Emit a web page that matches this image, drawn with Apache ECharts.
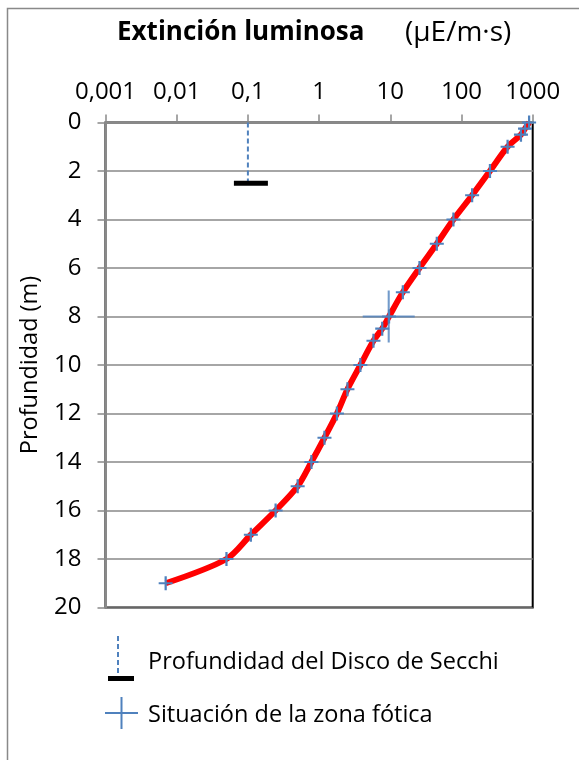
<!DOCTYPE html>
<html><head><meta charset="utf-8">
<script src="https://cdn.jsdelivr.net/npm/echarts@6/dist/echarts.min.js"></script>
<style>html,body{margin:0;padding:0;background:#fff}#c{width:579px;height:760px}</style>
</head><body><div id="c"></div>
<script>
// Depth (m) and light intensity (µE/m·s)
const depths = [0, 0.25, 0.5, 1, 2, 3, 4, 5, 6, 7, 8, 8.5, 9, 10, 11, 12, 13, 14, 15, 16, 17, 18, 19];
const light  = [890, 780, 684, 444, 251, 141, 77, 45, 25.7, 15, 9.6, 7.7, 5.8, 3.8, 2.5, 1.78, 1.19, 0.78, 0.50, 0.245, 0.11, 0.050, 0.0070];
const xTickLabels = ['0,001', '0,01', '0,1', '1', '10', '100', '1000'];
const secchiX = [0.1, 0.1];
const secchiDepth = [0, 2.5];
const photicX = [9.5];
const photicDepth = [8];

const FONT = '"Open Sans"';
const BLUE = '#4f81bd';
const GRAY = '#898989';
const plusSmall = 'path://M42,0H58V42H100V58H58V100H42V58H0V42H42Z';
const plusBig = 'path://M48,0H52V48H100V52H52V100H48V52H0V48H48Z';

const chart = echarts.init(document.getElementById('c'), null, {renderer: 'canvas'});
const mainData = depths.map((d, i) => [light[i], d]);
const secchiData = secchiX.map((x, i) => i === 0
  ? {value: [x, secchiDepth[i]], symbol: 'none'}
  : {value: [x, secchiDepth[i]], symbol: 'rect', symbolSize: [34, 5], symbolOffset: [3, 0], itemStyle: {color: '#000'}});
const photicData = photicX.map((x, i) => [x, photicDepth[i]]);

chart.setOption({
  animation: false,
  backgroundColor: '#fff',
  textStyle: {fontFamily: FONT},
  grid: {left: 105.5, right: 46.3, top: 122.5, bottom: 152.5, show: true, borderColor: '#000', borderWidth: 2, z: 0},
  xAxis: {
    type: 'log', logBase: 10, min: 0.001, max: 1000, position: 'top', z: 1,
    axisLine: {show: true, lineStyle: {color: GRAY, width: 2.5}},
    axisTick: {show: true, length: 8, lineStyle: {color: GRAY, width: 1.5}},
    minorTick: {show: false},
    splitLine: {show: false},
    axisLabel: {
      margin: 18, color: '#000', fontSize: 24, fontFamily: FONT,
      formatter: v => xTickLabels[Math.round(Math.log10(v)) + 3]
    }
  },
  yAxis: {
    type: 'value', inverse: true, min: 0, max: 20, interval: 2, z: 1,
    name: 'Profundidad (m)', nameLocation: 'middle', nameGap: 63, nameRotate: 90,
    nameTextStyle: {color: '#000', fontSize: 23.5, fontFamily: FONT},
    axisLine: {show: true, lineStyle: {color: GRAY, width: 2}},
    axisTick: {show: true, length: 8, lineStyle: {color: GRAY, width: 1.5}},
    splitLine: {show: true, lineStyle: {color: GRAY, width: 1.5}},
    axisLabel: {margin: 24, color: '#000', fontSize: 24, fontFamily: FONT}
  },
  series: [
    {
      type: 'line', data: mainData, smooth: 0.3, z: 3,
      lineStyle: {color: '#ff0000', width: 6},
      symbol: plusSmall, symbolSize: 14, showAllSymbol: true,
      itemStyle: {color: BLUE}
    },
    {
      type: 'line', data: secchiData, z: 3,
      lineStyle: {color: BLUE, width: 2, type: [5, 3]},
      itemStyle: {color: BLUE}
    },
    {
      type: 'scatter', data: photicData, z: 4,
      symbol: plusBig, symbolSize: 52, itemStyle: {color: BLUE}
    }
  ],
  graphic: [
    {type: 'rect', silent: true, shape: {x: 7.5, y: 8.5, width: 620, height: 800}, style: {fill: 'none', stroke: GRAY, lineWidth: 1.5}, z: -1},
    {type: 'text', left: 117, top: 20, style: {text: 'Extinción luminosa', font: 'bold 26px ' + FONT, fill: '#000'}},
    {type: 'text', left: 405, top: 19, style: {text: '(μE/m·s)', font: '28px ' + FONT, fill: '#000'}},
    // Legend: Secchi disk
    {type: 'line', shape: {x1: 118, y1: 636, x2: 118, y2: 676}, style: {stroke: BLUE, lineWidth: 2, lineDash: [5, 3]}},
    {type: 'rect', shape: {x: 108, y: 676, width: 26, height: 5}, style: {fill: '#000'}},
    {type: 'text', left: 148, top: 650, style: {text: 'Profundidad del Disco de Secchi', font: '23.5px ' + FONT, fill: '#000'}},
    // Legend: photic zone
    {type: 'line', shape: {x1: 105, y1: 713, x2: 138, y2: 713}, style: {stroke: BLUE, lineWidth: 2}},
    {type: 'line', shape: {x1: 121.5, y1: 697, x2: 121.5, y2: 729}, style: {stroke: BLUE, lineWidth: 2}},
    {type: 'text', left: 148, top: 703, style: {text: 'Situación de la zona fótica', font: '23.5px ' + FONT, fill: '#000'}}
  ]
});
</script>
</body></html>
